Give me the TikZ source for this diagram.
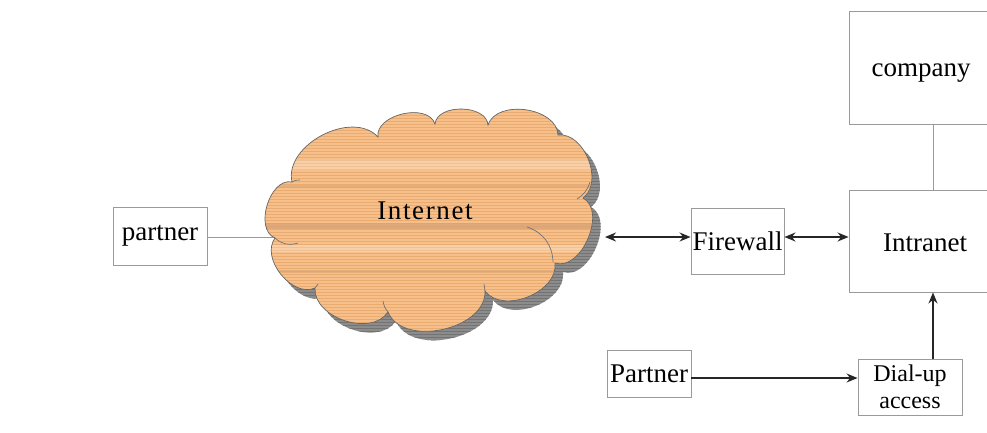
\documentclass[tikz,border=0pt]{standalone}
\usepackage{fontspec}
\setmainfont{Liberation Serif}
\usetikzlibrary{arrows.meta}
\definecolor{peach}{HTML}{F7C08A}
\definecolor{peachline}{HTML}{E9AB70}
\definecolor{peachband}{HTML}{D9A275}
\definecolor{boxline}{HTML}{9A9A9A}
\definecolor{shadowgray}{HTML}{8C8C8C}
\newcommand\cloudpath{(292,182) to[bend left=75] (378,137) to[bend left=85] (435,124) to[bend left=85] (488,125) to[bend left=80] (558,135) to[bend left=75] (583,198) to[bend left=85] (555,263) to[bend left=75] (485,291) to[bend left=80] (388,312) to[bend left=75] (315,288) to[bend left=75] (275,238) to[bend left=85] cycle}
\begin{document}
\begin{tikzpicture}[x=1pt,y=-1pt,
  box/.style={draw=boxline,line width=0.9pt,fill=white,inner sep=0pt,font=\fontsize{27}{30}\selectfont},
  link/.style={draw=boxline,line width=0.9pt},
  inner/.style={draw=black!55,line width=0.7pt},
  arr/.style={line width=1.6pt,draw=black!85,-{Stealth[length=11pt,width=9pt]}},
  darr/.style={line width=1.6pt,draw=black!85,{Stealth[length=11pt,width=9pt]}-{Stealth[length=11pt,width=9pt]}}]
\useasboundingbox (0,0) rectangle (987,432);
\clip (0,0) rectangle (987,432);
\fill[white] (0,0) rectangle (987,432);
% boxes
\node[box,minimum width=94pt,minimum height=58pt] (partner) at (160,236) {partner};
\node[box,minimum width=93pt,minimum height=66pt] (firewall) at (737.5,241) {Firewall};
\node[box,minimum width=150pt,minimum height=113pt] (company) at (924,67.5) {};
\node[font=\fontsize{27}{30}\selectfont] at (921,73) {company};
\node[box,minimum width=150pt,minimum height=102pt] (intranet) at (924,241) {};
\node[font=\fontsize{27}{30}\selectfont] at (925,243) {Intranet};
\node[box,minimum width=84pt,minimum height=47pt] (partner2) at (649,373.5) {Partner};
\node[box,minimum width=104pt,minimum height=56pt,align=center,font=\fontsize{24}{27}\selectfont] (dialup) at (910,387) {Dial-up\\access};
% cloud
\coordinate (cloudL) at (280,237);
\coordinate (cloudR) at (605,237);
\draw[link] (partner.east |- cloudL) -- (cloudL);
\begin{scope}
\clip [shift={(8,9)}] \cloudpath;
\fill[shadowgray] (250,100) rectangle (630,360);
\foreach \yy in {100,103,...,360} \draw[black!55,line width=0.5pt] (250,\yy) -- (630,\yy);
\end{scope}
\begin{scope}
\clip \cloudpath;
\fill[peach] (250,100) rectangle (620,350);
\foreach \yy in {100,103,...,350} \draw[peachline,line width=0.6pt] (250,\yy) -- (620,\yy);
\fill[peachband,opacity=0.8] (250,223) rectangle (620,229);
\fill[peachband,opacity=0.6] (250,185) rectangle (620,188);
\fill[peachband,opacity=0.6] (250,270) rectangle (620,273);
\fill[white,opacity=0.25] (250,160) rectangle (620,170);
\fill[white,opacity=0.25] (250,245) rectangle (620,252);
\end{scope}
\draw[black!60,line width=0.7pt] \cloudpath;
% inner arcs of the cloud
\draw[inner] (275,238) to[bend right=30] (298,243);
\draw[inner] (527,227) to[bend left=35] (553,262);
\draw[inner] (577,199) to[bend right=20] (590,182);
\draw[inner] (485,291) -- (484,284);
\draw[inner] (315,288) -- (318,284);
\draw[inner] (388,312) to[bend left=15] (383,301);
\draw[inner] (292,182) to[bend left=20] (300,180);
\node[font=\fontsize{27}{30}\selectfont\addfontfeatures{LetterSpace=6}] (internet) at (425,211) {Internet};
% connectors
\draw[link] (company.south -| 933,0) -- (intranet.north -| 933,0);
\draw[darr] (cloudR) -- (firewall.west |- cloudR);
\draw[darr] (firewall.east |- cloudR) -- (intranet.west |- cloudR);
\draw[arr] (partner2.east |- 0,378) -- (dialup.west |- 0,378);
\draw[arr] (dialup.north -| 933,0) -- (intranet.south -| 933,0);
\end{tikzpicture}
\end{document}
